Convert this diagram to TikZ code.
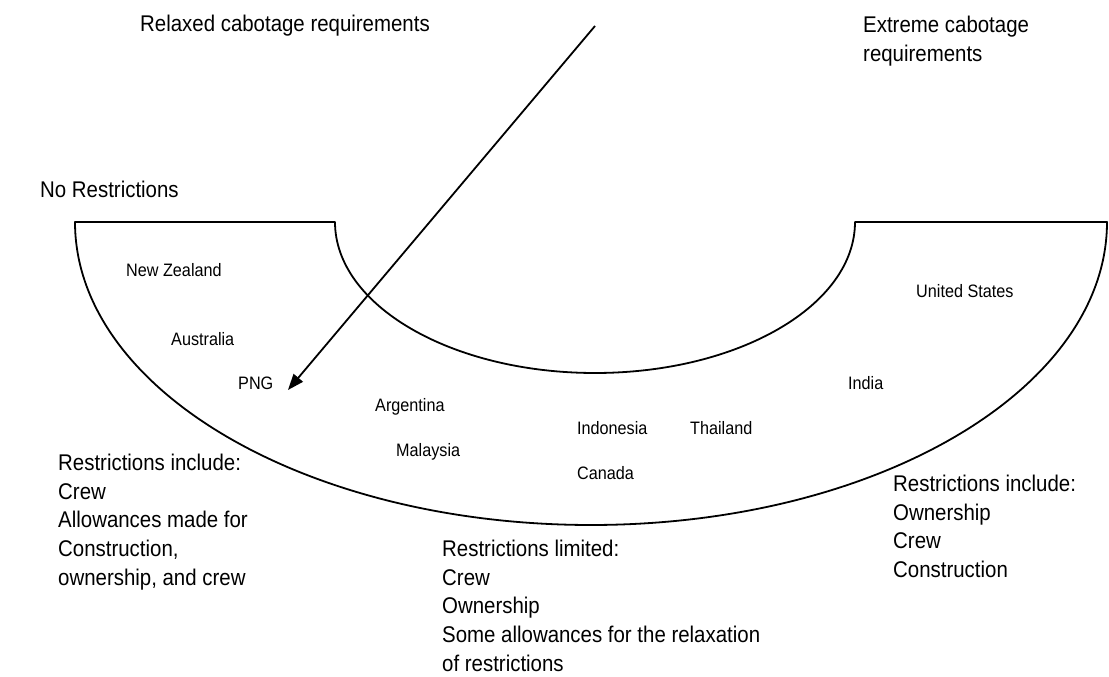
\documentclass[tikz,border=0pt]{standalone}
\usepackage{fontspec}
\setmainfont{Liberation Sans}[FakeStretch=0.9]
\usetikzlibrary{arrows.meta}

\begin{document}
\begin{tikzpicture}[x=1pt,y=1pt,
  big/.style={inner sep=0pt,font=\fontsize{22.7}{28.6}\selectfont,align=left},
  country/.style={inner sep=0pt,anchor=base west,font=\fontsize{18}{22}\selectfont}]
  \useasboundingbox (0,0) rectangle (1109,677);
  \draw[line width=1.8pt,line join=round] (75,455)--(335,455)
    arc[start angle=180,end angle=360,x radius=260,y radius=151]
    --(1107,455)
    arc[start angle=0,end angle=-180,x radius=516,y radius=303]--cycle;
  \coordinate (arrowstart) at (595,651);
  \coordinate (arrowend) at (288,287);
  \draw[line width=1.8pt,-{Triangle[length=16pt,width=12pt]}] (arrowstart)--(arrowend);
  \node[big,anchor=base west] (relaxed) at (140,645) {Relaxed cabotage requirements};
  \node[big,anchor=north west] (extreme) at (863,661) {Extreme cabotage\\requirements};
  \node[big,anchor=base west] (norestr) at (40,479) {No Restrictions};
  \node[country] (nz) at (126,400.6) {New Zealand};
  \node[country] (aus) at (171,331.6) {Australia};
  \node[country] (png) at (238,287.6) {PNG};
  \node[country] (arg) at (375,265.6) {Argentina};
  \node[country] (mal) at (396,220.6) {Malaysia};
  \node[country] (indo) at (577,242.6) {Indonesia};
  \node[country] (thai) at (690,242.6) {Thailand};
  \node[country] (can) at (577,197.6) {Canada};
  \node[country] (us) at (916,379.6) {United States};
  \node[country] (india) at (848,287.6) {India};
  \node[big,anchor=north west] (lowrestr) at (58,223) {Restrictions include:\\Crew\\Allowances made for\\Construction,\\ownership, and crew};
  \node[big,anchor=north west] (midrestr) at (442,137) {Restrictions limited:\\Crew\\Ownership\\Some allowances for the relaxation\\of restrictions};
  \node[big,anchor=north west] (highrestr) at (893,202) {Restrictions include:\\Ownership\\Crew\\Construction};
\end{tikzpicture}
\end{document}
